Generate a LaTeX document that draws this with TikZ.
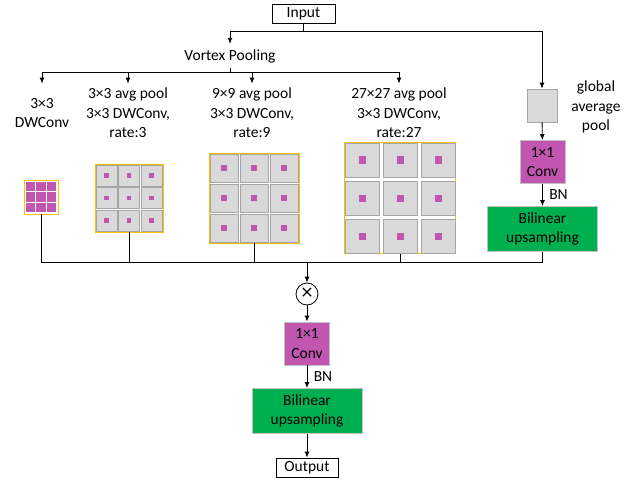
\documentclass[tikz,border=0pt]{standalone}
\usepackage{fontspec}
\setmainfont{Carlito}
\usetikzlibrary{arrows.meta,calc,positioning}
\definecolor{convpink}{RGB}{193,86,176}
\definecolor{upgreen}{RGB}{0,176,80}
\definecolor{cellgray}{RGB}{217,217,217}
\definecolor{linegray}{RGB}{166,166,166}
\definecolor{poolgold}{RGB}{255,192,0}
\tikzset{
  lbl/.style={align=center, inner sep=4pt},
  termbox/.style={draw, line width=0.8pt, minimum height=19pt, inner sep=0pt},
  convbox/.style={draw=linegray!70, line width=0.8pt, fill=convpink, align=center,
    minimum width=45pt, minimum height=43pt, inner sep=0pt},
  upbox/.style={draw=linegray!70, line width=0.8pt, fill=upgreen, align=center,
    minimum width=110pt, minimum height=45pt, inner sep=0pt},
  gridbox/.style={draw=poolgold, fill=white, line width=0.8pt, inner sep=0pt},
  cellbox/.style={draw=linegray, fill=cellgray, line width=0.8pt, inner sep=0pt},
  dotbox/.style={fill=convpink, inner sep=0pt},
}
% name, centre, outer size, cell size, pitch, dot size
\newcommand{\poolgrid}[6]{%
  \node[gridbox, minimum size=#3pt] (#1) at (#2) {};
  \foreach \i in {-1,0,1}{\foreach \j in {-1,0,1}{
    \node[cellbox, minimum size=#4pt] at ($(#1)+(\i*#5,\j*#5)$) {};
    \node[dotbox, minimum size=#6pt] at ($(#1)+(\i*#5,\j*#5)$) {};
  }}}
\begin{document}
\begin{tikzpicture}[x=1pt, y=-1pt, line width=0.9pt,
  font=\fontsize{15.5}{19.5}\selectfont, >={Latex[length=6pt,width=5pt]}]
\useasboundingbox (0,0) rectangle (644,481);
%
\node[termbox, minimum width=63pt] (in) at (303.5,14) {Input};
\node[inner sep=5pt] (vp) at (230,56) {Vortex Pooling};
\node[draw=linegray, fill=cellgray, line width=0.8pt, minimum width=30pt, minimum height=33pt] (gap) at (542,105.5) {};
\node[lbl] (gapl) at (596,107) {global\\average\\pool};
%
\node[lbl] (l1) at (42,113) {3×3\\DWConv};
\node[lbl] (l2) at (128,113) {3×3 avg pool\\3×3 DWConv,\\rate:3};
\node[lbl] (l3) at (252,113) {9×9 avg pool\\3×3 DWConv,\\rate:9};
\node[lbl] (l4) at (399,113) {27×27 avg pool\\3×3 DWConv,\\rate:27};
%
\node[gridbox, minimum size=34pt] (g1) at (41,197) {};
\foreach \i in {-1,0,1}{\foreach \j in {-1,0,1}{
  \node[dotbox, minimum size=9.5pt] at ($(g1)+(\i*10.7,\j*10.7)$) {};}}
\poolgrid{g3}{129,198}{68}{21}{22.5}{4.5}
\poolgrid{g9}{254,198}{90}{28}{30}{6}
\poolgrid{g27}{400,198}{111}{34}{38}{7}
%
\node[convbox] (conv1) at (542.5,162) {1×1\\Conv};
\node[upbox] (up1) at (542.5,229) {Bilinear\\upsampling};
\node[circle, draw, line width=0.8pt, minimum size=22pt, inner sep=0pt,
  font=\fontsize{22}{22}\selectfont] (mul) at (307,294) {×};
\node[convbox] (conv2) at (307,343.5) {1×1\\Conv};
\node[upbox] (up2) at (307,411) {Bilinear\\upsampling};
\node[termbox, minimum width=62pt] (out) at (307,467.5) {Output};
%
\draw[->] (in.south) -- ++(0,8) -| (vp.north);
\draw[->] (in.south) -- ++(0,8) -| (gap.north);
\draw[->] (vp.south) -- ++(0,4) -| (l1.north |- l2.north);
\draw[->] (vp.south) -- ++(0,4) -| (l2.north);
\draw[->] (vp.south) -- ++(0,4) -| (l3.north);
\draw[->] (vp.south) -- ++(0,4) -| (l4.north);
%
\draw[->] (gap) -- (conv1);
\draw[->] (conv1) -- node[right=3pt]{BN} (up1);
%
\draw (up1.south) -- ++(0,11) coordinate (bus) -| (g1.south);
\draw (g3.south) -- (g3.south |- bus);
\draw (g9.south) -- (g9.south |- bus);
\draw (g27.south) -- (g27.south |- bus);
\draw[->] (mul.north |- bus) -- (mul.north);
%
\draw[->] (mul) -- (conv2);
\draw[->] (conv2) -- node[right=3pt]{BN} (up2);
\draw[->] (up2) -- (out);
\end{tikzpicture}
\end{document}
